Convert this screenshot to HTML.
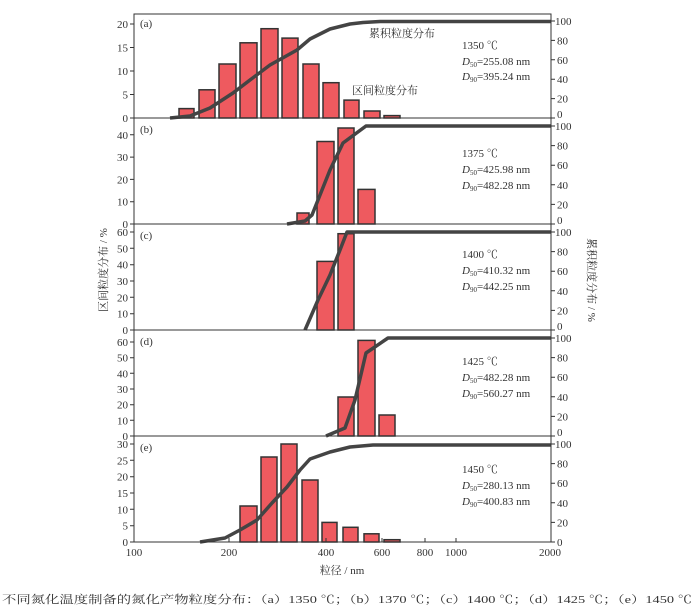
<!DOCTYPE html><html><head><meta charset="utf-8"><style>body{margin:0;background:#fff}svg{display:block}text{font-family:"Liberation Serif","Noto Serif CJK SC",serif;font-size:11px;fill:#333}</style></head><body>
<svg width="700" height="611" viewBox="0 0 700 611">
<g fill="#ee5a5f" stroke="#333" stroke-width="1.5">
<rect x="179" y="108.6" width="15" height="9.4"/><rect x="199" y="89.8" width="16" height="28.2"/><rect x="219" y="64" width="17" height="54"/><rect x="240" y="42.8" width="17" height="75.2"/><rect x="261" y="28.7" width="17" height="89.3"/><rect x="282" y="38.1" width="16" height="79.9"/><rect x="303" y="64" width="16" height="54"/><rect x="323" y="82.7" width="16" height="35.3"/><rect x="344" y="100.1" width="15" height="17.9"/><rect x="364" y="111" width="16" height="7"/><rect x="384" y="115.6" width="16" height="2.4"/>
<rect x="297" y="213" width="12" height="11"/><rect x="317" y="141.5" width="17" height="82.5"/><rect x="338" y="128" width="16" height="96"/><rect x="358" y="189.4" width="17" height="34.6"/>
<rect x="317" y="261.4" width="17" height="68.6"/><rect x="338" y="233.7" width="16" height="96.3"/>
<rect x="338" y="397" width="16" height="39"/><rect x="358" y="340.4" width="17" height="95.6"/><rect x="379" y="415" width="16" height="21"/>
<rect x="240" y="506" width="17" height="36"/><rect x="261" y="457" width="16" height="85"/><rect x="281" y="444" width="16" height="98"/><rect x="302" y="480" width="16" height="62"/><rect x="322" y="522.4" width="15" height="19.6"/><rect x="343" y="527.3" width="15" height="14.7"/><rect x="364" y="533.8" width="15" height="8.2"/><rect x="384" y="539.7" width="16" height="2.3"/>
</g>
<g fill="none" stroke="#444" stroke-width="3.5" stroke-linejoin="round">
<polyline points="170,118 190,116 210,108 233,93 250,80 270,65 297,50 310,39 330,29 350,24 363,22.5 380,21.5 551,21.5"/>
<polyline points="287,224 305,221 312,215 330,170 343,143 366,126 551,126"/>
<polyline points="305,330 318,300 330,275 340,250 347,232 551,232"/>
<polyline points="326,436 345,428 355,400 366,353 388,338 551,338"/>
<polyline points="200,542 225,538 240,530 257,520 272,503 287,487 300,470 310,459 330,452 350,447 373,445 551,445"/>
</g>
<g stroke="#333" stroke-width="1" fill="none">
<rect x="134" y="14" width="417" height="528"/>
<line x1="134" y1="118" x2="551" y2="118"/><line x1="134" y1="224" x2="551" y2="224"/><line x1="134" y1="330" x2="551" y2="330"/><line x1="134" y1="436" x2="551" y2="436"/>
</g>
<g stroke="#333" stroke-width="1">
<path d="M130 118h4M130 94.5h4M130 71h4M130 47.5h4M130 24h4"/>
<path d="M130 224h4M130 201.7h4M130 179.4h4M130 157.1h4M130 134.8h4"/>
<path d="M130 330h4M130 313.7h4M130 297.3h4M130 281h4M130 264.7h4M130 248.3h4M130 232h4"/>
<path d="M130 436h4M130 420.3h4M130 404.7h4M130 389h4M130 373.3h4M130 357.7h4M130 342h4"/>
<path d="M130 542h4M130 525.7h4M130 509.3h4M130 493h4M130 476.7h4M130 460.3h4M130 444h4"/>
<path d="M551 118h4M551 98.6h4M551 79.2h4M551 59.8h4M551 40.4h4M551 21h4"/>
<path d="M551 224h4M551 204.4h4M551 184.8h4M551 165.2h4M551 145.6h4M551 126h4"/>
<path d="M551 330h4M551 310.4h4M551 290.8h4M551 271.2h4M551 251.6h4M551 232h4"/>
<path d="M551 436h4M551 416.4h4M551 396.8h4M551 377.2h4M551 357.6h4M551 338h4"/>
<path d="M551 542h4M551 522.4h4M551 502.8h4M551 483.2h4M551 463.6h4M551 444h4"/>
<path d="M229 542v-4M326 542v-4M382 542v-4M425 542v-4M456 542v-4"/>
</g>
<g text-anchor="end">
<text x="128" y="122">0</text><text x="128" y="98.5">5</text><text x="128" y="75">10</text><text x="128" y="51.5">15</text><text x="128" y="28">20</text>
<text x="128" y="228">0</text><text x="128" y="205.7">10</text><text x="128" y="183.4">20</text><text x="128" y="161.1">30</text><text x="128" y="138.8">40</text>
<text x="128" y="334">0</text><text x="128" y="317.7">10</text><text x="128" y="301.3">20</text><text x="128" y="285">30</text><text x="128" y="268.7">40</text><text x="128" y="252.3">50</text><text x="128" y="236">60</text>
<text x="128" y="440">0</text><text x="128" y="424.3">10</text><text x="128" y="408.7">20</text><text x="128" y="393">30</text><text x="128" y="377.3">40</text><text x="128" y="361.7">50</text><text x="128" y="346">60</text>
<text x="128" y="546">0</text><text x="128" y="529.7">5</text><text x="128" y="513.3">10</text><text x="128" y="497">15</text><text x="128" y="480.7">20</text><text x="128" y="464.3">25</text><text x="128" y="448">30</text>
</g>
<g>
<text x="557" y="118">0</text><text x="557" y="102.6">20</text><text x="557" y="83.2">40</text><text x="557" y="63.8">60</text><text x="557" y="44.4">80</text><text x="555" y="25">100</text>
<text x="557" y="224">0</text><text x="557" y="208.4">20</text><text x="557" y="188.8">40</text><text x="557" y="169.2">60</text><text x="557" y="149.6">80</text><text x="555" y="130">100</text>
<text x="557" y="330">0</text><text x="557" y="314.4">20</text><text x="557" y="294.8">40</text><text x="557" y="275.2">60</text><text x="557" y="255.6">80</text><text x="555" y="236">100</text>
<text x="557" y="436">0</text><text x="557" y="420.4">20</text><text x="557" y="400.8">40</text><text x="557" y="381.2">60</text><text x="557" y="361.6">80</text><text x="555" y="342">100</text>
<text x="557" y="546">0</text><text x="557" y="526.4">20</text><text x="557" y="506.8">40</text><text x="557" y="487.2">60</text><text x="557" y="467.6">80</text><text x="555" y="448">100</text>
</g>
<g text-anchor="middle">
<text x="134" y="556">100</text><text x="229" y="556">200</text><text x="326" y="556">400</text><text x="382" y="556">600</text><text x="425" y="556">800</text><text x="456" y="556">1000</text><text x="550" y="556">2000</text>
<text x="342" y="574">粒径 / nm</text>
</g>
<text transform="translate(107,270) rotate(-90)" text-anchor="middle">区间粒度分布 / %</text>
<text transform="translate(588,280) rotate(90)" text-anchor="middle">累积粒度分布 / %</text>
<text x="140" y="27">(a)</text><text x="140" y="133">(b)</text><text x="140" y="239">(c)</text><text x="140" y="345">(d)</text><text x="140" y="451">(e)</text>
<text x="369" y="37">累积粒度分布</text><text x="352" y="94">区间粒度分布</text>
<g font-size="11">
<text x="462" y="49">1350 ℃</text><text x="462" y="65"><tspan font-style="italic">D</tspan><tspan font-size="7" dy="2">50</tspan><tspan dy="-2">=255.08 nm</tspan></text><text x="462" y="80"><tspan font-style="italic">D</tspan><tspan font-size="7" dy="2">90</tspan><tspan dy="-2">=395.24 nm</tspan></text>
<text x="462" y="157">1375 ℃</text><text x="462" y="173"><tspan font-style="italic">D</tspan><tspan font-size="7" dy="2">50</tspan><tspan dy="-2">=425.98 nm</tspan></text><text x="462" y="189"><tspan font-style="italic">D</tspan><tspan font-size="7" dy="2">90</tspan><tspan dy="-2">=482.28 nm</tspan></text>
<text x="462" y="258">1400 ℃</text><text x="462" y="274"><tspan font-style="italic">D</tspan><tspan font-size="7" dy="2">50</tspan><tspan dy="-2">=410.32 nm</tspan></text><text x="462" y="290"><tspan font-style="italic">D</tspan><tspan font-size="7" dy="2">90</tspan><tspan dy="-2">=442.25 nm</tspan></text>
<text x="462" y="365">1425 ℃</text><text x="462" y="381"><tspan font-style="italic">D</tspan><tspan font-size="7" dy="2">50</tspan><tspan dy="-2">=482.28 nm</tspan></text><text x="462" y="397"><tspan font-style="italic">D</tspan><tspan font-size="7" dy="2">90</tspan><tspan dy="-2">=560.27 nm</tspan></text>
<text x="462" y="473">1450 ℃</text><text x="462" y="489"><tspan font-style="italic">D</tspan><tspan font-size="7" dy="2">50</tspan><tspan dy="-2">=280.13 nm</tspan></text><text x="462" y="505"><tspan font-style="italic">D</tspan><tspan font-size="7" dy="2">90</tspan><tspan dy="-2">=400.83 nm</tspan></text>
</g>
<text x="2" y="603" font-size="14" fill="#222" textLength="690" lengthAdjust="spacingAndGlyphs">不同氮化温度制备的氮化产物粒度分布：（a）1350 ℃；（b）1370 ℃；（c）1400 ℃；（d）1425 ℃；（e）1450 ℃</text>
</svg>
</body></html>
